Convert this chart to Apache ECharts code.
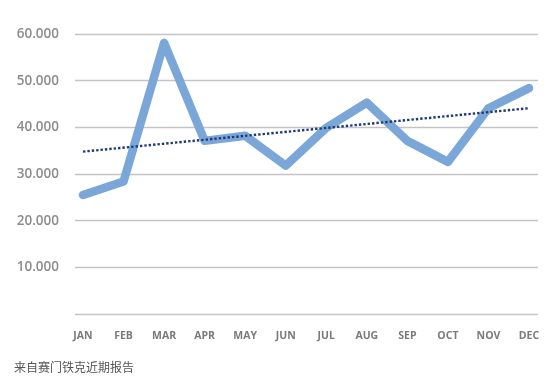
<!DOCTYPE html>
<html>
<head>
<meta charset="utf-8">
<script src="https://cdn.jsdelivr.net/npm/echarts@6/dist/echarts.min.js"></script>
<style>
  html, body { margin: 0; padding: 0; background: #fff; }
  #chart { width: 559px; height: 378px; }
</style>
</head>
<body>
<div id="chart"></div>
<script>
// data
const months = ['JAN', 'FEB', 'MAR', 'APR', 'MAY', 'JUN', 'JUL', 'AUG', 'SEP', 'OCT', 'NOV', 'DEC']
const values = [25.5, 28.4, 58.1, 37.1, 38.2, 31.8, 39.9, 45.3, 37.1, 32.6, 44.1, 48.4]
// trend line: only the two ends are read, the line joins them
const trend = [34.8, null, null, null, null, null, null, null, null, null, null, 44.1]
const yTicks = [0, 10, 20, 30, 40, 50, 60]
const yTickLabels = ['', '10.000', '20.000', '30.000', '40.000', '50.000', '60.000']
const note = '来自赛门铁克近期报告'

const chart = echarts.init(document.getElementById('chart'))
const font = "'Open Sans', 'Noto Sans', sans-serif"

const option = {
  animation: false,
  grid: [
    { left: 83, right: 30, top: 34, bottom: 64 }, // data
    { left: 75, right: 21, top: 34, bottom: 64 }  // gridlines + y labels
  ],
  xAxis: [
    {
      type: 'category',
      gridIndex: 0,
      data: months,
      boundaryGap: false,
      axisLine: { show: false },
      axisTick: { show: false },
      axisLabel: { color: '#7a7a7a', fontFamily: font, fontWeight: 'bold', fontSize: 10.5, margin: 17 }
    },
    { type: 'value', gridIndex: 1, min: 0, max: 1, show: false }
  ],
  yAxis: [
    { type: 'value', gridIndex: 0, min: 0, max: 60, interval: 10, show: false },
    {
      type: 'value',
      gridIndex: 1,
      min: yTicks[0],
      max: yTicks[yTicks.length - 1],
      interval: 10,
      axisLine: { show: false },
      axisTick: { show: false },
      splitLine: { show: true, lineStyle: { color: '#c3c3c8', width: 1.3 } },
      axisLabel: {
        margin: 16,
        color: '#8c8c8c',
        fontFamily: font,
        fontWeight: 600,
        fontSize: 13.5,
        formatter: v => yTickLabels[yTicks.indexOf(v)] || ''
      }
    }
  ],
  series: [
    {
      type: 'line',
      xAxisIndex: 0,
      yAxisIndex: 0,
      data: values,
      symbol: 'none',
      lineStyle: { color: '#7ba7d8', width: 8.5, cap: 'round', join: 'round' },
      z: 2
    },
    {
      type: 'line',
      xAxisIndex: 0,
      yAxisIndex: 0,
      data: trend,
      connectNulls: true,
      symbol: 'none',
      lineStyle: { color: '#1f3a78', width: 2.4, type: [2.4, 2] },
      z: 3
    }
  ],
  graphic: [
    {
      type: 'text',
      left: 14,
      top: 361,
      style: { text: note, fill: '#555', font: "12px 'Noto Sans CJK SC', sans-serif" }
    }
  ]
}

chart.setOption(option)
</script>
</body>
</html>
